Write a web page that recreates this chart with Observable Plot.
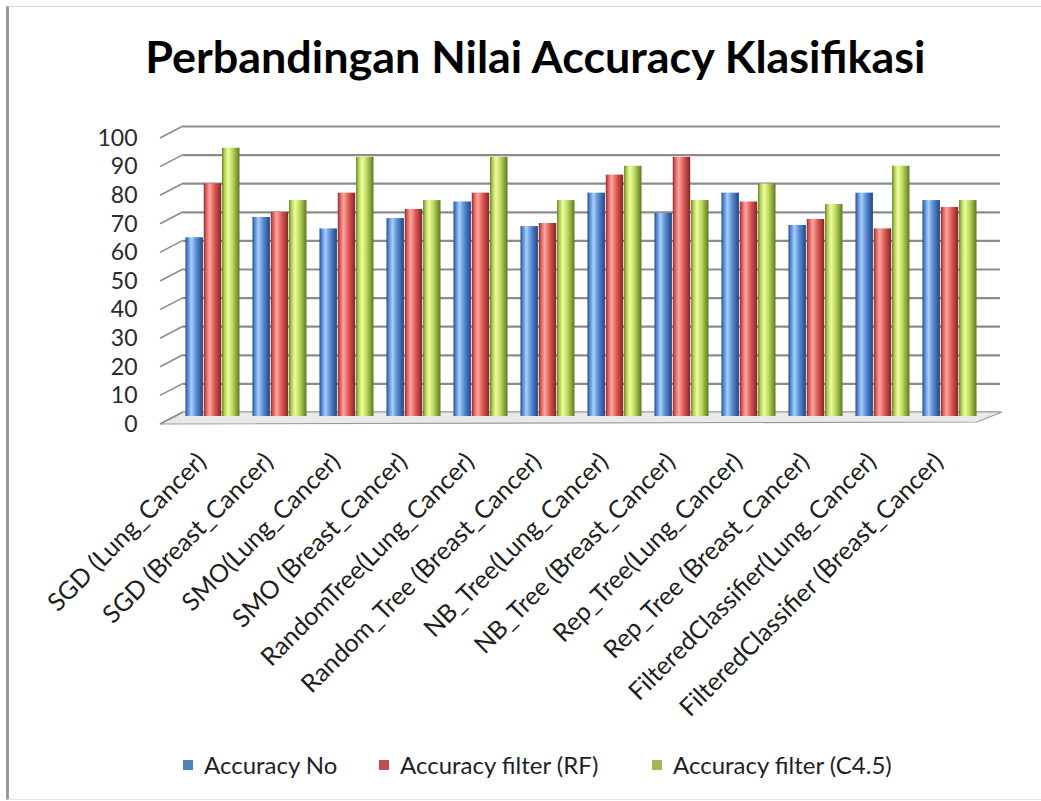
<!DOCTYPE html>
<html>
<head>
<meta charset="utf-8">
<script src="https://cdn.jsdelivr.net/npm/d3@7"></script>
<script src="https://cdn.jsdelivr.net/npm/@observablehq/plot@0.6"></script>
<style>
  html, body { margin: 0; padding: 0; background: #fff; }
  #wrap { position: relative; width: 1041px; height: 801px; overflow: hidden; background: #fff; font-family: Lato, "Open Sans", sans-serif; }
  #frame { position: absolute; left: 6px; top: 6px; right: -2px; bottom: 1px; border-left: 3px solid #9a9a9a; border-top: 1px solid #d4d4d4; border-bottom: 1px solid #e4e4e4; }
  #title { position: absolute; top: 30px; left: 0; width: 1070px; text-align: center; font-size: 44px; font-weight: 700; line-height: 1.2; color: #000; white-space: nowrap; }
  #title span { display: inline-block; transform-origin: 50% 50%; }
  #chart { position: absolute; left: 0; top: 100px; }
  #legend { position: absolute; top: 751px; left: 0; width: 1041px; height: 28px; font-size: 24px; line-height: 28px; color: #1f1f2a; white-space: nowrap; }
  #legend .sw { position: absolute; top: 9px; width: 10px; height: 10px; }
  #legend .lab { position: absolute; top: 0; }
</style>
</head>
<body>
<div id="wrap">
  <div id="frame"></div>
  <div id="title"><span>Perbandingan Nilai Accuracy Klasifikasi</span></div>
  <div id="chart"></div>
  <div id="legend"></div>
</div>
<script>
const categories = [
  "SGD (Lung_Cancer)", "SGD (Breast_Cancer)", "SMO(Lung_Cancer)", "SMO (Breast_Cancer)",
  "RandomTree(Lung_Cancer)", "Random_Tree (Breast_Cancer)", "NB_Tree(Lung_Cancer)", "NB_Tree (Breast_Cancer)",
  "Rep_Tree(Lung_Cancer)", "Rep_Tree (Breast_Cancer)", "FilteredClassifier(Lung_Cancer)", "FilteredClassifier (Breast_Cancer)"
];
const seriesNames = ["Accuracy No", "Accuracy filter (RF)", "Accuracy filter (C4.5)"];
const accuracyNo   = [62.5, 69.6, 65.6, 69.2, 75.0, 66.4, 78.1, 71.0, 78.1, 66.8, 78.1, 75.5];
const accuracyRF   = [81.3, 71.3, 78.1, 72.4, 78.1, 67.5, 84.4, 90.6, 75.0, 68.9, 65.6, 73.1];
const accuracyC45  = [93.8, 75.5, 90.6, 75.5, 90.6, 75.5, 87.5, 75.5, 81.3, 74.1, 87.5, 75.5];
const yTicks = [0, 10, 20, 30, 40, 50, 60, 70, 80, 90, 100];
const legendColors = ["#4F81BD", "#C0504D", "#9BBB59"];

const seriesValues = [accuracyNo, accuracyRF, accuracyC45];
const gradIds = ["gBlue", "gRed", "gGreen"];
const rows = seriesValues.map(vals => categories.map((c, i) => ({cat: c, value: vals[i]})));

const W = 1041, H = 620;
const mL = 173.5, mR = 53, mT = 30, mB = 304;
const band = (W - mL - mR) / categories.length;
const barW = 18.3, groupPad = (band - 3 * barW) / 2;

function wallAndFloor(index, scales, values, dimensions) {
  const y = scales.y;
  const g = d3.create("svg:g");
  const x0 = dimensions.marginLeft;
  const xr = dimensions.width - dimensions.marginRight;
  const yb = y(0) - 4;
  g.append("path")
    .attr("d", `M${x0 + 9.5},${yb} L${xr + 14},${yb} L${xr - 11},${yb + 10} L${x0 - 13.5},${yb + 12} Z`)
    .attr("fill", "#e9e9e9").attr("stroke", "#9a9a9a").attr("stroke-width", 1.2);
  for (const t of yTicks) {
    const yy = y(t) - 4;
    g.append("line")
      .attr("x1", x0 - 13.5).attr("y1", yy + 12)
      .attr("x2", x0 + 9.5).attr("y2", yy)
      .attr("stroke", "#8c8c8c").attr("stroke-width", 1.6);
  }
  return g.node();
}

const marks = [
  Plot.ruleY(yTicks, {y: d => d, stroke: "#8c8c8c", strokeWidth: 2.2, dy: -4, insetLeft: 9.5, insetRight: -12}),
  wallAndFloor
];
rows.forEach((data, i) => {
  const left = groupPad + i * barW;
  marks.push(Plot.barY(data, {
    x: "cat", y: "value",
    fill: `url(#${gradIds[i]})`,
    insetLeft: left, insetRight: band - left - barW
  }));
});
marks.push(Plot.text(yTicks, {
  y: d => d, text: d => String(d), frameAnchor: "left", textAnchor: "end",
  dx: -36.5, dy: 8, fontSize: 23, fill: "#2a2a2a"
}));
marks.push(Plot.text(categories, {
  x: d => d, text: d => d, frameAnchor: "bottom", rotate: -45, textAnchor: "end",
  lineAnchor: "middle", dx: -11, dy: 41, fontSize: 25, fill: "#1e1e1e"
}));

const chart = Plot.plot({
  width: W, height: H,
  marginLeft: mL, marginRight: mR, marginTop: mT, marginBottom: mB,
  style: {background: "transparent", fontFamily: "Lato, 'Open Sans', sans-serif", overflow: "visible"},
  x: {type: "band", domain: categories, padding: 0, axis: null},
  y: {domain: [0, 100], axis: null},
  marks
});

const gradStops = [
  [["0%", "#24497f"], ["12%", "#4f85d0"], ["34%", "#a8cefa"], ["60%", "#5a8fd8"], ["100%", "#22467f"]],
  [["0%", "#86262a"], ["12%", "#d85a56"], ["34%", "#ffa7a1"], ["60%", "#e25d58"], ["100%", "#832423"]],
  [["0%", "#5f7b22"], ["12%", "#abcb50"], ["34%", "#effd9e"], ["60%", "#bcd95d"], ["100%", "#5d7822"]]
];
const svgSel = d3.select(chart);
const defs = svgSel.insert("defs", ":first-child");
gradIds.forEach((id, i) => {
  const lg = defs.append("linearGradient").attr("id", id).attr("x1", "0").attr("x2", "1").attr("y1", "0").attr("y2", "0");
  gradStops[i].forEach(([o, c]) => lg.append("stop").attr("offset", o).attr("stop-color", c));
});
document.getElementById("chart").appendChild(chart);

// legend
const legend = d3.select("#legend");
const swatchX = [183, 379, 652];
seriesNames.forEach((name, i) => {
  legend.append("div").attr("class", "sw").style("left", swatchX[i] + "px").style("background", legendColors[i]);
  legend.append("span").attr("class", "lab").style("left", (swatchX[i] + 21) + "px").text(name);
});

// fit title width to reference proportions
const span = document.querySelector("#title span");
const w = span.getBoundingClientRect().width;
span.style.transform = `scaleX(${780 / w})`;
</script>
</body>
</html>
